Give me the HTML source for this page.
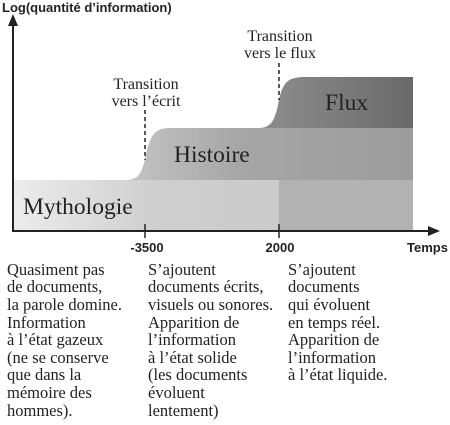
<!DOCTYPE html>
<html><head><meta charset="utf-8"><style>body{margin:0;background:#fff}svg{display:block}</style></head><body>
<svg width="450" height="425" xmlns="http://www.w3.org/2000/svg">
<defs>
<linearGradient id="g1" x1="0" x2="1"><stop offset="0" stop-color="#ececec"/><stop offset="0.35" stop-color="#cfcfcf"/><stop offset="1" stop-color="#c6c6c6"/></linearGradient>
<linearGradient id="g2" x1="0" x2="1"><stop offset="0" stop-color="#c4c4c4"/><stop offset="0.4" stop-color="#a6a6a6"/><stop offset="1" stop-color="#9c9c9c"/></linearGradient>
<linearGradient id="g3" x1="0" x2="1"><stop offset="0" stop-color="#8e8e8e"/><stop offset="1" stop-color="#6a6a6a"/></linearGradient>
</defs>
<rect x="13" y="180" width="400" height="51" fill="url(#g1)"/>
<rect x="279" y="180" width="134" height="51" fill="#b2b2b2"/>
<path d="M125,180 C140,180 142,172 146,155 C150,135 155,128 170,128 L413,128 L413,180 Z" fill="url(#g2)"/>
<path d="M258,128 C272,128 275,120 279,100 C283,82 288,77 305,77 L413,77 L413,128 Z" fill="url(#g3)"/>
<line x1="13" y1="232" x2="13" y2="22" stroke="#222" stroke-width="2"/>
<polygon points="13,14 8,26 18,26" fill="#222"/>
<line x1="12" y1="231" x2="432" y2="231" stroke="#222" stroke-width="2"/>
<polygon points="440,231 428,226 428,236" fill="#222"/>
<line x1="145" y1="224" x2="145" y2="238" stroke="#222" stroke-width="1.5"/>
<line x1="279" y1="224" x2="279" y2="238" stroke="#222" stroke-width="1.5"/>
<line x1="145" y1="110" x2="145" y2="160" stroke="#222" stroke-width="1.5" stroke-dasharray="4,3"/>
<line x1="279" y1="63" x2="279" y2="100" stroke="#222" stroke-width="1.5" stroke-dasharray="4,3"/>
<g font-family="Liberation Sans, sans-serif" font-weight="bold" font-size="13" fill="#222">
<text x="2" y="12">Log(quantité d’information)</text>
<text x="147" y="252" text-anchor="middle">-3500</text>
<text x="280" y="252" text-anchor="middle">2000</text>
<text x="407" y="252">Temps</text>
</g>
<g font-family="Liberation Serif, serif" fill="#222">
<g font-size="16" text-anchor="middle">
<text x="146" y="89">Transition</text><text x="146" y="106">vers l’écrit</text>
<text x="280" y="41">Transition</text><text x="280" y="58">vers le flux</text>
</g>
<text x="23" y="214" font-size="23.5">Mythologie</text>
<text x="174" y="162" font-size="23.5">Histoire</text>
<text x="325" y="110" font-size="23.5">Flux</text>
<g font-size="16.5">
<text x="7" y="275">Quasiment pas</text><text x="7" y="292">de documents,</text><text x="7" y="310">la parole domine.</text><text x="7" y="328">Information</text><text x="7" y="345">à l’état gazeux</text><text x="7" y="363">(ne se conserve</text><text x="7" y="380">que dans la</text><text x="7" y="398">mémoire des</text><text x="7" y="416">hommes).</text>
<text x="148" y="275">S’ajoutent</text><text x="148" y="292">documents écrits,</text><text x="148" y="310">visuels ou sonores.</text><text x="148" y="328">Apparition de</text><text x="148" y="345">l’information</text><text x="148" y="363">à l’état solide</text><text x="148" y="380">(les documents</text><text x="148" y="398">évoluent</text><text x="148" y="416">lentement)</text>
<text x="288" y="275">S’ajoutent</text><text x="288" y="292">documents</text><text x="288" y="310">qui évoluent</text><text x="288" y="328">en temps réel.</text><text x="288" y="345">Apparition de</text><text x="288" y="363">l’information</text><text x="288" y="380">à l’état liquide.</text>
</g>
</g>
</svg>
</body></html>
